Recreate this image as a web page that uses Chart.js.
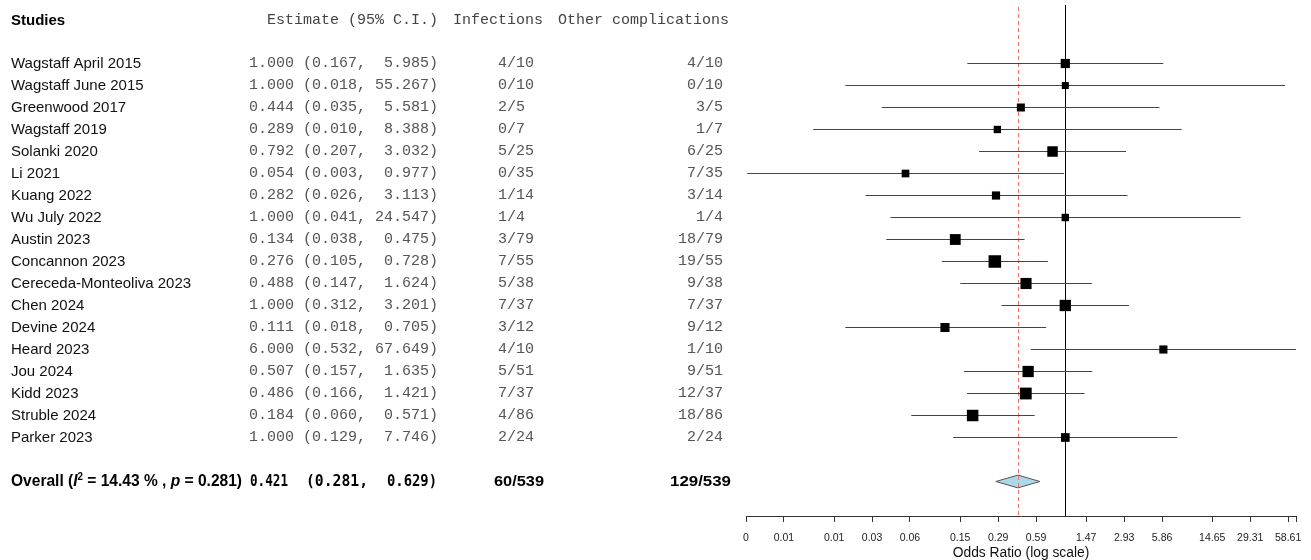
<!DOCTYPE html>
<html>
<head>
<meta charset="utf-8">
<script src="https://cdn.jsdelivr.net/npm/chart.js@4.4.1/dist/chart.umd.min.js"></script>
<style>
html,body{margin:0;padding:0;background:#fff;overflow:hidden}
#wrap{position:relative;width:1311px;height:560px}
</style>
</head>
<body>
<div id="wrap"><canvas id="c" width="1311" height="560"></canvas></div>
<script>
// ---------------- DATA ----------------
const studies = ["Wagstaff April 2015","Wagstaff June 2015","Greenwood 2017","Wagstaff 2019","Solanki 2020","Li 2021","Kuang 2022","Wu July 2022","Austin 2023","Concannon 2023","Cereceda-Monteoliva 2023","Chen 2024","Devine 2024","Heard 2023","Jou 2024","Kidd 2023","Struble 2024","Parker 2023"];
const estimates = [1.000,1.000,0.444,0.289,0.792,0.054,0.282,1.000,0.134,0.276,0.488,1.000,0.111,6.000,0.507,0.486,0.184,1.000];
const lowerCI   = [0.167,0.018,0.035,0.010,0.207,0.003,0.026,0.041,0.038,0.105,0.147,0.312,0.018,0.532,0.157,0.166,0.060,0.129];
const upperCI   = [5.985,55.267,5.581,8.388,3.032,0.977,3.113,24.547,0.475,0.728,1.624,3.201,0.705,67.649,1.635,1.421,0.571,7.746];
const infections = ["4/10","0/10","2/5","0/7","5/25","0/35","1/14","1/4","3/79","7/55","5/38","7/37","3/12","4/10","5/51","7/37","4/86","2/24"];
const otherComplications = ["4/10","0/10","3/5","1/7","6/25","7/35","3/14","1/4","18/79","19/55","9/38","7/37","9/12","1/10","9/51","12/37","18/86","2/24"];
const overallEstimate = 0.421, overallLower = 0.281, overallUpper = 0.629;
const overallI2 = "14.43", overallP = "0.281";
const overallInfections = "60/539", overallOther = "129/539";
const tickValues = [0.00293,0.00586,0.01465,0.0293,0.0586,0.1465,0.293,0.586,1.465,2.93,5.86,14.65,29.31,58.61];
const tickLabels = ["0","0.01","0.01","0.03","0.06","0.15","0.29","0.59","1.47","2.93","5.86","14.65","29.31","58.61"];
const axisMin = 0.00293, axisMax = 67.649;
const xTitle = "Odds Ratio (log scale)";

// ---------------- LAYOUT HELPERS ----------------
const headerRow = -2;
const overallRow = studies.length + 1;
const SANS = '"Liberation Sans", Arial, sans-serif';
const NARROW = '"Liberation Sans Narrow", "Liberation Sans", Arial, sans-serif';
const MONO = '"Liberation Mono", "Courier New", monospace';
const SMONO = '"DejaVu Sans Mono", "Liberation Mono", monospace';

function boxSide(i){
  const se = (Math.log(upperCI[i]) - Math.log(lowerCI[i])) / 3.92;
  return 5.24 + 3.6 / se;
}
function fmtCI(e,l,u){
  return e.toFixed(3) + " (" + l.toFixed(3) + ", " + u.toFixed(3).padStart(6) + ")";
}

const ciSets = studies.map((s,i)=>({
  type:'scatter', showLine:true,
  data:[{x:lowerCI[i],y:i},{x:upperCI[i],y:i}],
  borderColor:'#444', borderWidth:1, pointRadius:0, pointHoverRadius:0, order:2
}));
const boxSet = {
  type:'scatter',
  data: estimates.map((v,i)=>({x:v,y:i})),
  pointStyle:'rect',
  pointRadius: estimates.map((v,i)=> boxSide(i)/Math.SQRT2),
  pointHoverRadius: estimates.map((v,i)=> boxSide(i)/Math.SQRT2),
  backgroundColor:'#000', borderColor:'#000', borderWidth:0, order:0
};

function fitText(ctx, text, font, x, y, width){
  ctx.font = font;
  const w = ctx.measureText(text).width;
  ctx.save();
  ctx.translate(x, y);
  ctx.scale(width / w, 1);
  ctx.textAlign = 'left';
  ctx.fillText(text, 0, 0);
  ctx.restore();
}
function richText(ctx, segs, x, y, width){
  let total = 0;
  segs.forEach(s=>{ ctx.font = s.f; s.w = ctx.measureText(s.t).width; total += s.w; });
  ctx.save();
  ctx.translate(x, y);
  ctx.scale(width / total, 1);
  ctx.textAlign = 'left';
  let cx = 0;
  segs.forEach(s=>{ ctx.font = s.f; ctx.fillText(s.t, cx, s.dy || 0); cx += s.w; });
  ctx.restore();
}

const refPlugin = {
  id:'refLines',
  beforeDatasetsDraw(chart){
    const ctx = chart.ctx, xs = chart.scales.x, ys = chart.scales.y, a = chart.chartArea;
    ctx.save();
    const yo = ys.getPixelForValue(overallRow);
    const xl = xs.getPixelForValue(overallLower), xe = xs.getPixelForValue(overallEstimate), xu = xs.getPixelForValue(overallUpper);
    ctx.beginPath();
    ctx.moveTo(xl, yo); ctx.lineTo(xe, yo-6.4); ctx.lineTo(xu, yo); ctx.lineTo(xe, yo+6.4); ctx.closePath();
    ctx.fillStyle = '#add8e6'; ctx.fill();
    ctx.strokeStyle = '#555'; ctx.lineWidth = 1; ctx.stroke();
    const x1 = Math.round(xs.getPixelForValue(1)) + 0.5;
    ctx.beginPath(); ctx.moveTo(x1, a.top); ctx.lineTo(x1, a.bottom);
    ctx.strokeStyle = '#000'; ctx.lineWidth = 1; ctx.stroke();
    const xr = Math.round(xe) + 0.5;
    ctx.setLineDash([4,3]);
    ctx.beginPath(); ctx.moveTo(xr, a.top+2); ctx.lineTo(xr, a.bottom);
    ctx.strokeStyle = '#f07070'; ctx.stroke();
    ctx.restore();
  }
};

const textPlugin = {
  id:'forestText',
  afterDraw(chart){
    const ctx = chart.ctx, ys = chart.scales.y;
    ctx.save();
    ctx.textBaseline = 'middle';
    let y = ys.getPixelForValue(headerRow);
    ctx.fillStyle = '#000'; ctx.font = 'bold 15px ' + SANS; ctx.textAlign = 'left';
    ctx.fillText('Studies', 11, y + 1);
    ctx.font = '15px ' + MONO; ctx.fillStyle = '#444';
    ctx.textAlign = 'right'; ctx.fillText('Estimate (95% C.I.)', 438, y + 0.5);
    ctx.textAlign = 'left';
    ctx.fillText('Infections', 453, y + 0.5);
    ctx.fillText('Other complications', 558, y + 0.5);
    studies.forEach((s,i)=>{
      const yy = ys.getPixelForValue(i);
      ctx.fillStyle = '#111'; ctx.font = '15px ' + SANS; ctx.textAlign = 'left';
      ctx.fillText(s, 11, yy + 0.5);
      ctx.fillStyle = '#555'; ctx.font = '15px ' + MONO;
      ctx.textAlign = 'right'; ctx.fillText(fmtCI(estimates[i], lowerCI[i], upperCI[i]), 438, yy);
      ctx.textAlign = 'left'; ctx.fillText(infections[i], 498, yy);
      ctx.textAlign = 'right'; ctx.fillText(otherComplications[i], 723, yy);
    });
    y = ys.getPixelForValue(overallRow);
    ctx.fillStyle = '#000';
    const B = 'bold 16px ' + NARROW, BI = 'italic bold 16px ' + NARROW;
    richText(ctx, [
      {t:'Overall (', f:B}, {t:'I', f:BI}, {t:'2', f:'bold 10px ' + NARROW, dy:-5},
      {t:' = ' + overallI2 + ' % , ', f:B}, {t:'p', f:BI}, {t:' = ' + overallP + ')', f:B}
    ], 11, y + 0.5, 231);
    const NB = 'bold 16px ' + SMONO;
    fitText(ctx, overallEstimate.toFixed(3), NB, 250, y + 0.5, 38);
    fitText(ctx, '(' + overallLower.toFixed(3) + ',', NB, 306, y + 0.5, 62);
    fitText(ctx, overallUpper.toFixed(3) + ')', NB, 387, y + 0.5, 50);
    const NB2 = 'bold 15px ' + NARROW;
    fitText(ctx, overallInfections, NB2, 494, y + 0.5, 50);
    fitText(ctx, overallOther, NB2, 670, y + 0.5, 61);
    ctx.restore();
  }
};

new Chart(document.getElementById('c'), {
  type:'scatter',
  data:{ datasets: ciSets.concat([boxSet]) },
  options:{
    responsive:false, animation:false, devicePixelRatio:1, events:[],
    layout:{ autoPadding:false, padding:{ left:746, right:15, top:5, bottom:0 } },
    plugins:{ legend:{display:false}, tooltip:{enabled:false} },
    scales:{
      x:{
        type:'logarithmic', position:'bottom', min:axisMin, max:axisMax, bounds:'data',
        afterBuildTicks: s => { s.ticks = tickValues.concat([axisMax]).map(v=>({value:v})); },
        afterFit: s => { s.height = 44; },
        ticks:{ autoSkip:false, maxRotation:0, minRotation:0, padding:10, color:'#222',
          font:{ family:SANS, size:10.5 },
          callback:(v,i)=> i < tickLabels.length ? tickLabels[i] : '' },
        grid:{ drawOnChartArea:false, drawTicks:true, tickLength:6, color:'#333', lineWidth:1 },
        border:{ display:true, color:'#333', width:1 },
        title:{ display:true, text:xTitle, color:'#111', font:{ family:SANS, size:13.8, lineHeight:1 }, padding:{ top:0, bottom:0 } }
      },
      y:{ type:'linear', display:false, reverse:true, min:-2.659, max:20.568, bounds:'data' }
    }
  },
  plugins:[refPlugin, textPlugin]
});
</script>
</body>
</html>
